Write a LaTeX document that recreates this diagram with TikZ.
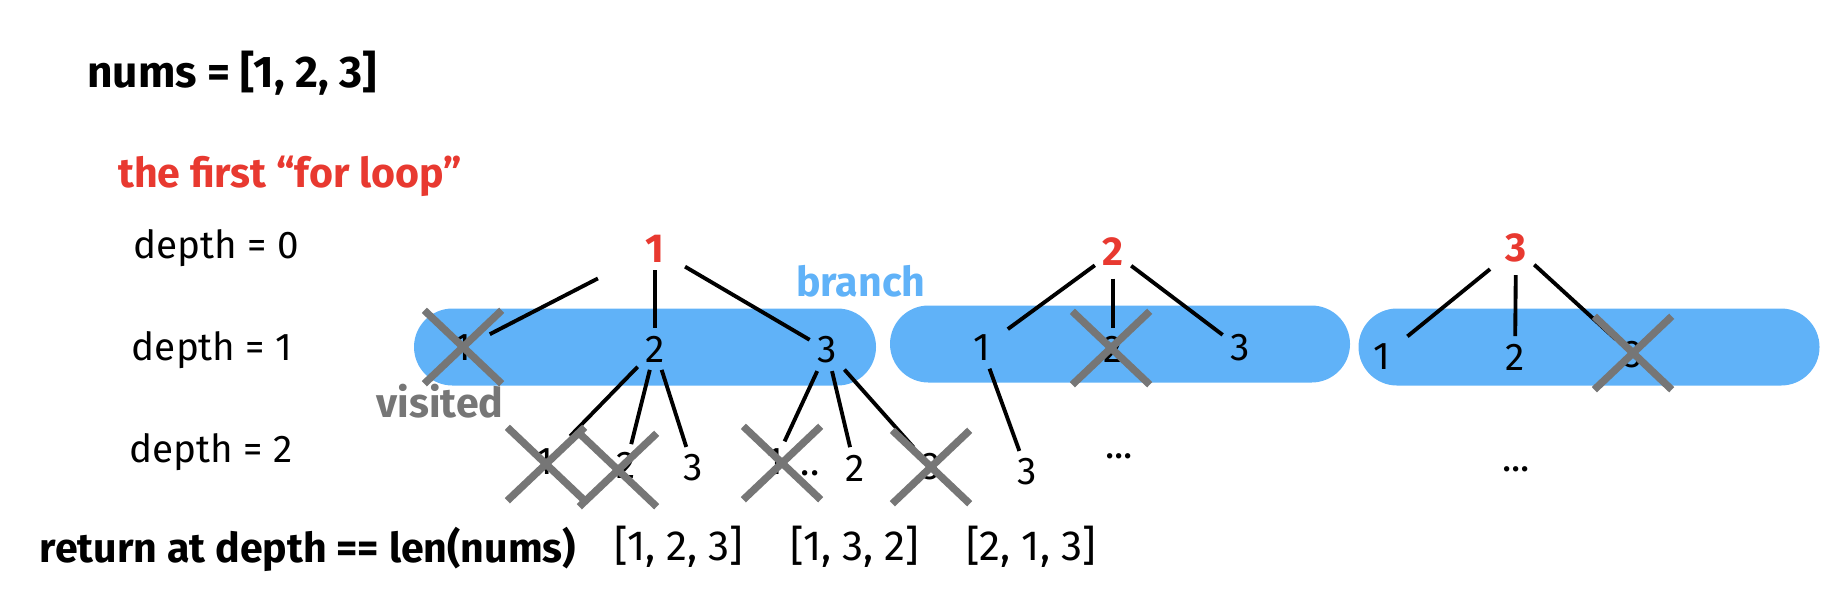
\documentclass[tikz,border=0pt]{standalone}
\usepackage{fontspec}
\setmainfont{Fira Sans}
\usetikzlibrary{shapes.misc}
\definecolor{loopred}{RGB}{232,57,48}
\definecolor{pillblue}{RGB}{96,178,248}
\definecolor{xgray}{RGB}{118,118,118}

\begin{document}
\begin{tikzpicture}[x=0.1mm, y=-0.1mm,
    num/.style={font=\fontsize{11}{13}\selectfont, inner sep=2pt},
    root/.style={num, font=\fontsize{11.5}{13}\selectfont\bfseries, text=loopred},
    note/.style={font=\fontsize{11.7}{14}\selectfont\bfseries, inner sep=0pt},
    lvl/.style={font=\fontsize{11}{13}\selectfont, inner sep=0pt},
    pill/.style={fill=pillblue, rounded corners=3.85mm, minimum height=7.7mm, inner sep=0pt},
    xmark/.style={cross out, draw=xgray, line width=2.1pt, minimum width=7mm, minimum height=6.6mm, inner sep=0pt},
    edge/.style={line width=1.1pt}]
  \useasboundingbox (0,0) rectangle (1844,602);

  \node[pill, minimum width=46.2mm] (p1) at (645,347) {};
  \node[pill, minimum width=46.0mm] (p2) at (1120,344) {};
  \node[pill, minimum width=46.1mm] (p3) at (1589,347) {};

  \node[note, font=\fontsize{12.6}{15}\selectfont\bfseries] (nums) at (232,73) {nums = [1, 2, 3]};
  \node[note, text=loopred] (loop) at (290,176) {the first “for loop”};
  \node[lvl] (d0) at (216,248) {depth = 0};
  \node[lvl] (d1) at (212,350) {depth = 1};
  \node[lvl] (d2) at (211,452) {depth = 2};
  \node[note] (ret) at (308,549) {return at depth == len(nums)};
  \node[note, text=xgray] (vis) at (440,401) {visited};
  \node[note, text=pillblue] (br) at (861,281) {branch};

  \node[root] (r1) at (655,249) {1};
  \node[root] (r2) at (1113,252) {2};
  \node[root] (r3) at (1516,248) {3};

  \node[num] (a1) at (463,348) {1};
  \node[num] (a2) at (655,349) {2};
  \node[num] (a3) at (827,350) {3};
  \node[num] (b1) at (982,348) {1};
  \node[num] (b2) at (1113,349) {2};
  \node[num] (b3) at (1240,348) {3};
  \node[num] (c1) at (1382,357) {1};
  \node[num] (c2) at (1515,357) {2};
  \node[num] (c3) at (1633,355) {3};

  \node[num] (a21) at (545,462) {1};
  \node[num] (a22) at (626,465) {2};
  \node[num] (a23) at (693,468) {3};
  \node[num] (a31) at (775,462) {1};
  \node[num, anchor=base] (a3d) at (810,475) {..};
  \node[num] (a32) at (855,468) {2};
  \node[num] (a33) at (931,467) {3};
  \node[num] (b13) at (1027,472) {3};
  \node[num, anchor=base] (b2d) at (1119,458) {...};
  \node[num, anchor=base] (c2d) at (1516,471) {...};

  \node[lvl, font=\fontsize{12}{14}\selectfont] (s1) at (679,547) {[1, 2, 3]};
  \node[lvl, font=\fontsize{12}{14}\selectfont] (s2) at (855,547) {[1, 3, 2]};
  \node[lvl, font=\fontsize{12}{14}\selectfont] (s3) at (1031,547) {[2, 1, 3]};

  \draw[edge, shorten <=4.5mm, shorten >=1.2mm] (r1) -- (a1);
  \draw[edge] (r1) -- (a2);
  \draw[edge, shorten <=1.5mm] (r1) -- (a3);
  \draw[edge, shorten >=1.3mm] (a2) -- (a21);
  \draw[edge] (a2) -- (a22);
  \draw[edge] (a2) -- (a23);
  \draw[edge] (a3) -- (a31);
  \draw[edge] (a3) -- (a32);
  \draw[edge] (a3) -- (a33);
  \draw[edge, shorten >=1.2mm] (r2) -- (b1);
  \draw[edge, shorten <=0.5mm] (r2) -- (b2);
  \draw[edge] (r2) -- (b3);
  \draw[edge] (b1) -- (b13);
  \draw[edge, shorten <=1mm, shorten >=1.2mm] (r3) -- (c1);
  \draw[edge, shorten <=0.5mm] (r3) -- (c2);
  \draw[edge] (r3) -- (c3);

  \node[xmark] (xa1) at (463,347) {};
  \node[xmark] (xa21) at (546,464) {};
  \node[xmark] (xa22) at (618,470) {};
  \node[xmark] (xa31) at (782,463) {};
  \node[xmark] (xa33) at (931,467) {};
  \node[xmark] (xb2) at (1111,348) {};
  \node[xmark] (xc3) at (1633,353) {};
\end{tikzpicture}
\end{document}
